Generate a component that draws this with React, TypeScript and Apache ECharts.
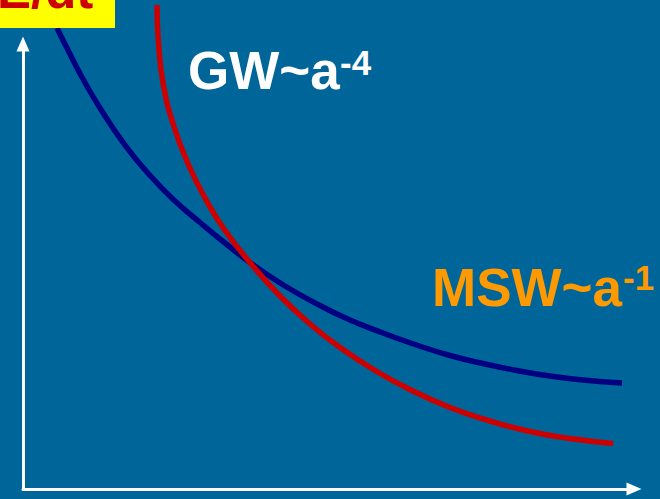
import React, { useEffect, useRef } from "react";
import * as echarts from "echarts";

// Curve values (schematic units: x = orbital separation a, y = dE/dt)
const gwX = [0.556, 0.769, 0.982, 1.26, 1.669, 2.079, 2.488, 2.897, 3.306, 3.748, 4.288, 4.861, 5.352, 5.892, 6.416, 6.989, 7.561, 8.085, 8.625, 9.165, 9.804];
const gwY = [10.36, 9.775, 9.213, 8.562, 7.73, 7.045, 6.472, 5.989, 5.528, 5.056, 4.562, 4.124, 3.798, 3.506, 3.247, 3.0, 2.809, 2.663, 2.539, 2.449, 2.382];

const mswX = [2.193, 2.219, 2.298, 2.462, 2.71, 2.997, 3.301, 3.748, 4.206, 4.697, 5.188, 5.761, 6.334, 6.989, 7.643, 8.298, 8.953, 9.656];
const mswY = [10.876, 9.978, 9.079, 8.18, 7.281, 6.494, 5.82, 5.034, 4.337, 3.708, 3.18, 2.663, 2.236, 1.831, 1.528, 1.292, 1.135, 1.022];

const yAxisTitle = "E/dt";
const gwLabel = "GW~a";
const gwPower = "-4";
const mswLabel = "MSW~a";
const mswPower = "-1";

const FONT = "'Liberation Sans', Arial, Helvetica, sans-serif";

export default function App() {
  const ref = useRef<HTMLDivElement>(null);

  useEffect(() => {
    document.body.style.margin = "0";
    if (!ref.current) return;
    const chart = echarts.init(ref.current, undefined, { renderer: "svg" });
    const pair = (xs: number[], ys: number[]) => xs.map((x, i) => [x, ys[i]]);
    const axisLine = {
      show: true,
      symbol: ["none", "triangle"],
      symbolSize: [13, 15],
      lineStyle: { color: "#FFFFFF", width: 3 },
    };
    const textStyle = (text: string, fill: string, size: number) => ({
      text,
      fill,
      font: `bold ${size}px ${FONT}`,
      align: "left",
      verticalAlign: "middle",
      textAlign: "left",
      textVerticalAlign: "middle",
    });
    chart.setOption({
      animation: false,
      backgroundColor: "#006699",
      grid: { left: 23, right: 26, top: 44, bottom: 10 },
      xAxis: {
        type: "value",
        min: 0,
        max: 10,
        axisLine,
        axisTick: { show: false },
        axisLabel: { show: false },
        splitLine: { show: false },
      },
      yAxis: {
        type: "value",
        min: 0,
        max: 10,
        axisLine,
        axisTick: { show: false },
        axisLabel: { show: false },
        splitLine: { show: false },
      },
      series: [
        {
          type: "line",
          name: "GW",
          data: pair(gwX, gwY),
          smooth: 0.5,
          showSymbol: false,
          clip: false,
          lineStyle: { color: "#000080", width: 5.5 },
          z: 3,
        },
        {
          type: "line",
          name: "MSW",
          data: pair(mswX, mswY),
          smooth: 0.5,
          showSymbol: false,
          clip: false,
          lineStyle: { color: "#CC0000", width: 5.5 },
          z: 4,
        },
      ],
      graphic: [
        {
          type: "rect",
          shape: { x: 0, y: -10, width: 115, height: 38 },
          style: { fill: "#FFFF00" },
          z: 10,
        },
        { type: "text", x: -3, y: -10, z: 11, style: textStyle(yAxisTitle, "#CC0000", 51) },
        { type: "text", x: 188, y: 70.5, z: 11, style: textStyle(gwLabel, "#FFFFFF", 53) },
        { type: "text", x: 340, y: 62.5, z: 11, style: textStyle(gwPower, "#FFFFFF", 35) },
        { type: "text", x: 432, y: 287, z: 11, style: textStyle(mswLabel, "#FF9900", 53) },
        { type: "text", x: 623, y: 277.5, z: 11, style: textStyle(mswPower, "#FF9900", 35) },
      ],
    });
    return () => chart.dispose();
  }, []);

  return (
    <div
      ref={ref}
      style={{ position: "absolute", left: 0, top: 0, width: 660, height: 499 }}
    />
  );
}
